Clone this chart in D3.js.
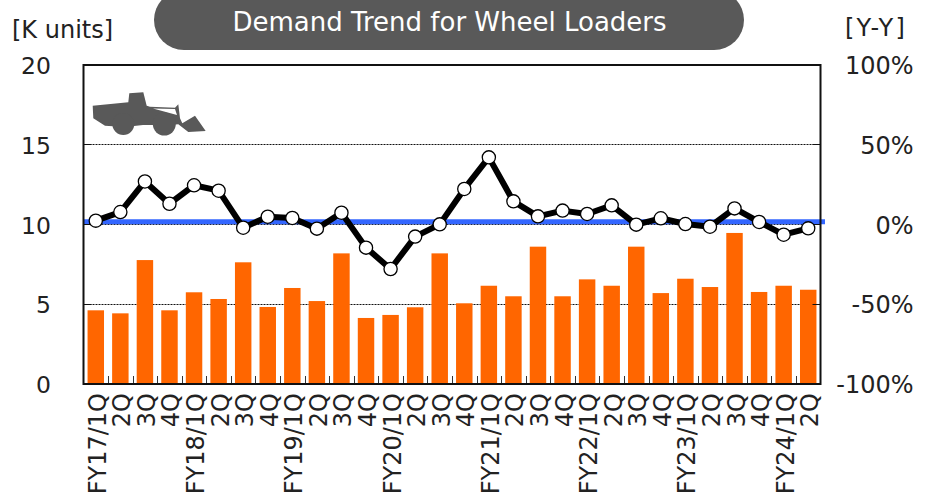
<!DOCTYPE html>
<html><head><meta charset="utf-8">
<script src="https://cdn.jsdelivr.net/npm/d3@7"></script>
<style>html,body{margin:0;padding:0;background:#fff}svg{display:block}text{font-family:"DejaVu Sans",Verdana,sans-serif}</style>
</head><body><div id="c"></div>
<script>
const categories=["FY17/1Q","2Q","3Q","4Q","FY18/1Q","2Q","3Q","4Q","FY19/1Q","2Q","3Q","4Q","FY20/1Q","2Q","3Q","4Q","FY21/1Q","2Q","3Q","4Q","FY22/1Q","2Q","3Q","4Q","FY23/1Q","2Q","3Q","4Q","FY24/1Q","2Q"];
const demand=[4.62,4.43,7.77,4.62,5.75,5.33,7.63,4.83,6.02,5.2,8.19,4.14,4.33,4.81,8.19,5.06,6.16,5.5,8.61,5.5,6.56,6.16,8.61,5.7,6.6,6.08,9.47,5.77,6.16,5.91];
const yoy=[2.4,7.8,27,13,24.6,21.2,-2,4.9,4.1,-2.6,7.4,-14.5,-27.9,-7.6,0.1,22.3,42.1,14.5,5.1,8.7,6.6,12,-0.1,3.9,0.3,-1.4,10.1,1.6,-6.4,-2.4];
const leftTicks=[0,5,10,15,20];
const rightTicks=[-100,-50,0,50,100];
const refLevel=[1.8];
const W=925,H=499,L=83.5,R=820.5,T=65,B=384;
const svg=d3.select("#c").append("svg").attr("width",W).attr("height",H);
const x=d3.scaleBand().domain(d3.range(categories.length)).range([L,R]).paddingInner(0.33).paddingOuter(0.165);
const step=(R-L)/categories.length;
const y=d3.scaleLinear().domain([0,20]).range([B,T]);
const y2=d3.scaleLinear().domain([-100,100]).range([B,T]);
const cx=i=>x(i)+x.bandwidth()/2;
const gy=d=>Math.floor(y(d))+.5;
const dark="#595959", ink="#222";
svg.append("rect").attr("x",154).attr("y",-10).attr("width",590).attr("height",60).attr("rx",30).attr("fill",dark);
svg.append("text").attr("x",449.5).attr("y",31).attr("text-anchor","middle").attr("font-size",26).attr("fill","#fff").text("Demand Trend for Wheel Loaders");
svg.append("text").attr("x",12).attr("y",38).attr("font-size",24).attr("fill",ink).text("[K units]");
svg.append("text").attr("x",845).attr("y",36).attr("font-size",24).attr("letter-spacing",2.2).attr("fill",ink).text("[Y-Y]");
svg.append("g").selectAll("line").data(leftTicks.slice(1,4)).join("line")
 .attr("x1",L).attr("x2",R).attr("y1",gy).attr("y2",gy)
 .attr("stroke","#111").attr("stroke-width",1).attr("stroke-dasharray","2 1");
svg.append("g").selectAll("rect").data(demand).join("rect")
 .attr("x",(d,i)=>x(i)).attr("width",x.bandwidth()).attr("y",d=>y(d)).attr("height",d=>B-y(d)).attr("fill","#ff6600");
svg.append("g").selectAll("line").data(refLevel).join("line").attr("x1",L).attr("x2",825).attr("y1",d=>y2(d)).attr("y2",d=>y2(d)).attr("stroke","#3366ff").attr("stroke-width",5);
const ga=svg.append("g");
ga.selectAll(".xt").data(d3.range(1,categories.length)).join("line").attr("class","xt")
 .attr("x1",i=>Math.round(L+i*step)+.5).attr("x2",i=>Math.round(L+i*step)+.5).attr("y1",B).attr("y2",B-8).attr("stroke","#333").attr("stroke-width",1);
ga.selectAll(".lt").data(leftTicks.slice(1,4)).join("line").attr("class","lt").attr("x1",L).attr("x2",L+8).attr("y1",gy).attr("y2",gy).attr("stroke","#111");
ga.selectAll(".rt").data(leftTicks.slice(1,4)).join("line").attr("class","rt").attr("x1",R-8).attr("x2",R).attr("y1",gy).attr("y2",gy).attr("stroke","#111");
svg.append("rect").attr("x",L).attr("y",T).attr("width",R-L).attr("height",B-T).attr("fill","none").attr("stroke","#111").attr("stroke-width",2);
const line=d3.line().x((d,i)=>cx(i)).y(d=>y2(d));
svg.append("path").datum(yoy).attr("d",line).attr("fill","none").attr("stroke","#000").attr("stroke-width",6).attr("stroke-linejoin","round");
svg.append("g").selectAll("circle").data(yoy).join("circle").attr("cx",(d,i)=>cx(i)).attr("cy",d=>y2(d)).attr("r",6.6).attr("fill","#fff").attr("stroke","#000").attr("stroke-width",1.3);
svg.append("g").selectAll("text").data(leftTicks).join("text").attr("x",51).attr("y",d=>y(d)+9).attr("text-anchor","end").attr("font-size",23.5).attr("fill",ink).text(d=>d);
svg.append("g").selectAll("text").data(rightTicks).join("text").attr("x",913.5).attr("y",d=>y2(d)+9).attr("text-anchor","end").attr("font-size",24).attr("fill",ink).text(d=>d+"%");
svg.append("g").selectAll("text").data(categories).join("text")
 .attr("transform",(d,i)=>`translate(${cx(i)+10},393) rotate(-90)`).attr("text-anchor","end").attr("font-size",24).attr("fill",ink).text(d=>d);
const ic=svg.append("g").attr("fill",dark);
ic.append("path").attr("fill-rule","evenodd").attr("d","M92.7 105.7L128.3 102.3L129.3 93.3L143.3 92.3L146.7 105.7L150 106.7L175 107.7L178.3 104.3L180 118.3L182.3 123.3L195 115.7L205.7 131L188.3 132L178.3 124.3L170 125L143 125L125 127L105 125.7L93.3 118.3Z M153 108.5L175 109L177 115Z");
ic.append("circle").attr("cx",123.3).attr("cy",124).attr("r",11);
ic.append("circle").attr("cx",164.3).attr("cy",124).attr("r",11.5);
</script></body></html>
